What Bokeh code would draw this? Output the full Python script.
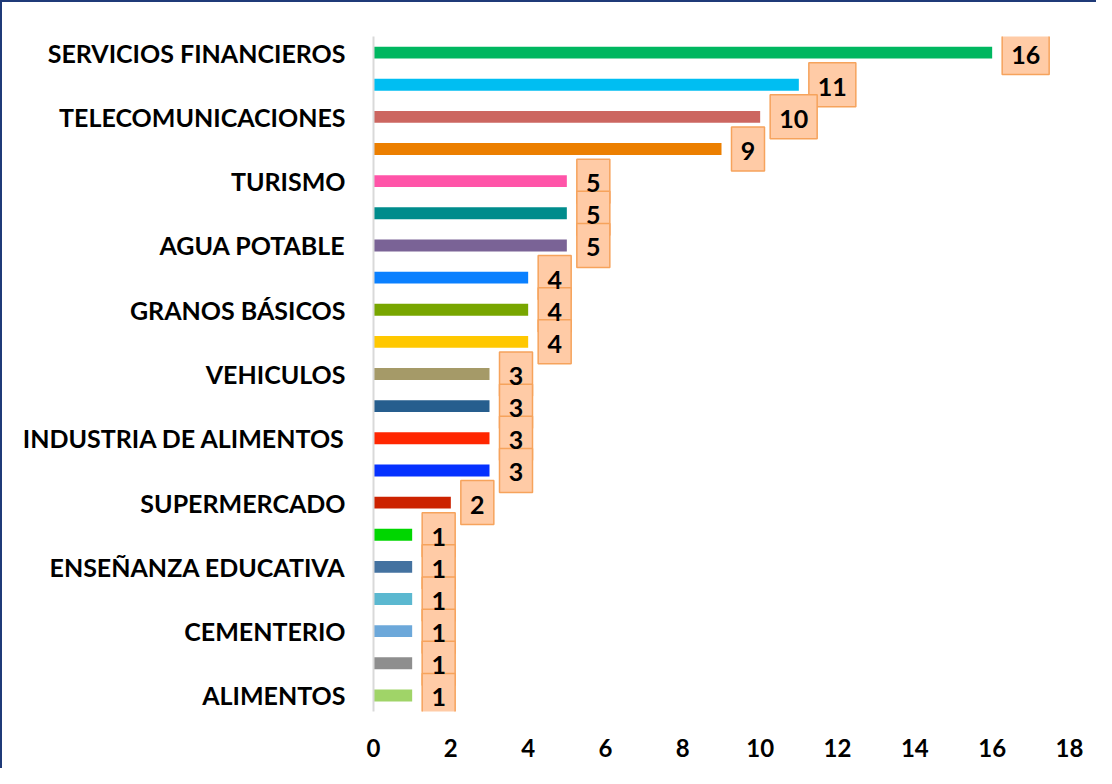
from bokeh.plotting import figure
from bokeh.models import Range1d, FixedTicker, ColumnDataSource
from bokeh.core.properties import value
from bokeh.embed import file_html
from bokeh.resources import INLINE

categories = ["SERVICIOS FINANCIEROS", "", "TELECOMUNICACIONES", "", "TURISMO", "",
              "AGUA POTABLE", "", "GRANOS BÁSICOS", "", "VEHICULOS", "",
              "INDUSTRIA DE ALIMENTOS", "", "SUPERMERCADO", "", "ENSEÑANZA EDUCATIVA", "",
              "CEMENTERIO", "", "ALIMENTOS"]
counts = [16, 11, 10, 9, 5, 5, 5, 4, 4, 4, 3, 3, 3, 3, 2, 1, 1, 1, 1, 1, 1]
colors = ["#00B760", "#00BEF2", "#CC6660", "#EC7F00", "#FF54A8", "#008C8C", "#7A6396",
          "#0A80FF", "#78A600", "#FFC800", "#A59A68", "#265E8E", "#FF2600", "#0531FF",
          "#CC2200", "#00D600", "#4472A0", "#5BB8D0", "#6CA8DA", "#8E8E8E", "#A0D468"]
x_ticks = [0, 2, 4, 6, 8, 10, 12, 14, 16, 18]

FONT = "Lato"
X_MAX = 18
FRAME_W = 696                     # plot-area width in px
PX = X_MAX / FRAME_W              # data units per pixel
GAP_PX = 10                       # gap between bar end and label box
BOX_W1, BOX_W2, BOX_H = 33, 47, 44

rows = list(range(len(categories)))
labels = [str(v) for v in counts]
box_w = [(BOX_W1 if len(t) == 1 else BOX_W2) * PX for t in labels]
box_x = [v + GAP_PX * PX + w / 2 for v, w in zip(counts, box_w)]
src = ColumnDataSource(dict(y=rows, v=counts, c=colors, t=labels, bx=box_x, bw=box_w))

p = figure(width=1096, height=768, output_backend="svg", toolbar_location=None,
           x_range=Range1d(0, X_MAX), y_range=Range1d(len(rows) - 0.5, -0.5),
           min_border_left=371, min_border_right=29, min_border_top=34, min_border_bottom=59)
p.styles = {"border-left": "2px solid #1F3A78", "border-top": "2px solid #1F3A78"}
p.outline_line_color = None
p.xgrid.visible = False
p.ygrid.visible = False

p.hbar(y="y", right="v", left=0, height=0.37, fill_color="c", line_color=None, source=src)

# label boxes first, then all the numbers on top of them
p.rect(x="bx", y="y", width="bw", height=BOX_H, height_units="screen", source=src,
       fill_color="#FFCBA6", line_color="#F6A35C", line_width=1.5)
p.text(x="bx", y="y", text="t", source=src, y_offset=2,
       text_align="center", text_baseline="middle",
       text_font=value(FONT), text_font_style="bold", text_font_size="25px", text_color="black")

xa = p.xaxis[0]
xa.ticker = FixedTicker(ticks=x_ticks)
xa.axis_line_color = None
xa.major_tick_line_color = None
xa.minor_tick_line_color = None
xa.major_label_standoff = 21
xa.major_label_text_font = FONT
xa.major_label_text_font_style = "bold"
xa.major_label_text_font_size = "24px"
xa.major_label_text_color = "black"

ya = p.yaxis[0]
label_rows = [i for i, c in enumerate(categories) if c]
ya.ticker = FixedTicker(ticks=label_rows)
ya.major_label_overrides = {i: categories[i] for i in label_rows}
ya.axis_line_color = "#D9D9D9"
ya.axis_line_width = 2
ya.major_tick_line_color = None
ya.minor_tick_line_color = None
ya.major_label_standoff = 22
ya.major_label_text_font = FONT
ya.major_label_text_font_style = "bold"
ya.major_label_text_font_size = "25px"
ya.major_label_text_color = "black"

open("out.html", "w").write(file_html(p, INLINE))
